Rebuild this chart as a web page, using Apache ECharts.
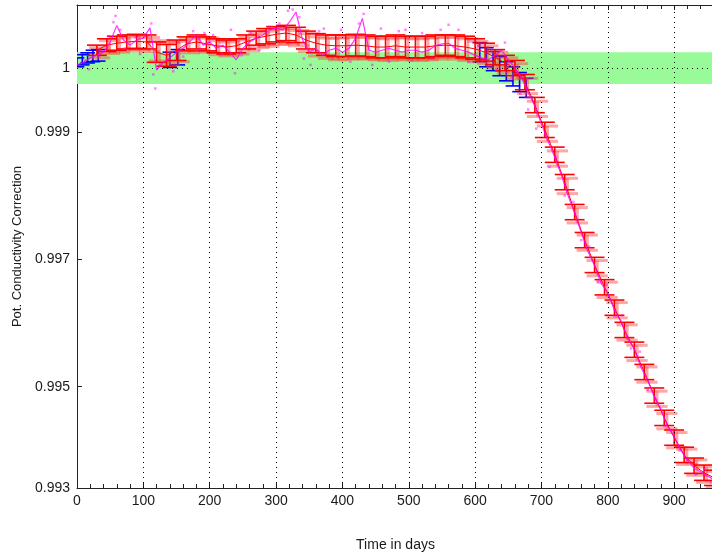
<!DOCTYPE html>
<html>
<head>
<meta charset="utf-8">
<script src="https://cdn.jsdelivr.net/npm/echarts@6/dist/echarts.min.js"></script>
<style>
  html, body { margin: 0; padding: 0; background: #fff; }
  #chart { width: 712px; height: 553px; }
</style>
</head>
<body>
<div id="chart"></div>
<script>
// Time axis ticks (days) and labelled correction levels
const xTicks = [0, 100, 200, 300, 400, 500, 600, 700, 800, 900];
const yLabelValues = [0.99341, 0.995, 0.997, 0.999, 1];
const yGridValues = [0.995, 0.997, 0.999, 1];

// Tolerance band around a correction of 1
const bandLow = 0.99975;
const bandHigh = 1.00025;

// Binned estimates with error bars (red)
const binDays = [30, 45, 60, 75, 90, 105, 120, 135, 150, 165, 180, 195, 210, 225, 240, 255, 270, 285, 300, 315,
  330, 345, 360, 375, 390, 405, 420, 435, 450, 465, 480, 495, 510, 525, 540, 555, 570, 585, 600, 615,
  630, 645, 660, 675, 690, 705, 720, 735, 750, 765, 780, 795, 810, 825, 840, 855, 870, 885, 900, 915,
  930, 945, 960];
const binMean = [1.00028, 1.00036, 1.00039, 1.00041, 1.00042, 1.00041, 1.00025, 1.00020, 1.00028, 1.00038,
  1.00041, 1.00038, 1.00035, 1.00033, 1.00035, 1.00041, 1.00047, 1.00050, 1.00053, 1.00055,
  1.00052, 1.00044, 1.00039, 1.00036, 1.00035, 1.00035, 1.00036, 1.00035, 1.00033, 1.00033,
  1.00035, 1.00033, 1.00033, 1.00033, 1.00035, 1.00036, 1.00035, 1.00033, 1.00030, 1.00025,
  1.00017, 1.00008, 1.00000, 0.99978, 0.99942, 0.99903, 0.99864, 0.99821, 0.99774, 0.99730,
  0.99691, 0.99656, 0.99624, 0.99589, 0.99558, 0.99523, 0.99486, 0.99451, 0.99420, 0.99393,
  0.99376, 0.99365, 0.99357];
const binErr = [0.00008, 0.00010, 0.00011, 0.00011, 0.00011, 0.00011, 0.00016, 0.00017, 0.00016, 0.00011,
  0.00011, 0.00011, 0.00011, 0.00011, 0.00011, 0.00011, 0.00011, 0.00012, 0.00012, 0.00012,
  0.00012, 0.00014, 0.00015, 0.00016, 0.00017, 0.00017, 0.00017, 0.00017, 0.00017, 0.00017,
  0.00017, 0.00017, 0.00017, 0.00017, 0.00017, 0.00016, 0.00017, 0.00017, 0.00016, 0.00014,
  0.00012, 0.00012, 0.00012, 0.00012, 0.00012, 0.00012, 0.00012, 0.00012, 0.00012, 0.00012,
  0.00012, 0.00012, 0.00012, 0.00012, 0.00012, 0.00012, 0.00012, 0.00012, 0.00012, 0.00012,
  0.00012, 0.00012, 0.00012];
// Second (lighter) binned estimate
const altMean = [1.00024, 1.00033, 1.00036, 1.00038, 1.00040, 1.00037, 1.00027, 1.00023, 1.00026, 1.00035,
  1.00038, 1.00036, 1.00032, 1.00030, 1.00033, 1.00038, 1.00043, 1.00046, 1.00049, 1.00050,
  1.00047, 1.00040, 1.00034, 1.00031, 1.00030, 1.00031, 1.00032, 1.00031, 1.00030, 1.00029,
  1.00031, 1.00030, 1.00029, 1.00030, 1.00031, 1.00033, 1.00031, 1.00029, 1.00026, 1.00021,
  1.00013, 1.00004, 0.99995, 0.99972, 0.99936, 0.99897, 0.99858, 0.99815, 0.99769, 0.99726,
  0.99686, 0.99652, 0.99620, 0.99585, 0.99553, 0.99519, 0.99481, 0.99446, 0.99416, 0.99390,
  0.99373, 0.99362, 0.99355];

// Short-window estimates (blue)
const blueDays = [0, 8, 16, 24, 32, 140, 152, 607, 617, 627, 637, 647, 657, 667, 677];
const blueMean = [1.00009, 1.00013, 1.00016, 1.00019, 1.00020, 1.00013, 1.00017, 1.00025, 1.00017, 1.00011,
  1.00003, 0.99995, 0.99987, 0.99978, 0.99969];
const blueErr = [0.00007, 0.00008, 0.00008, 0.00009, 0.00009, 0.00012, 0.00012, 0.00015, 0.00015, 0.00015,
  0.00015, 0.00015, 0.00015, 0.00015, 0.00015];

// Raw series (magenta)
const rawDays = [0, 10, 20, 30, 40, 50, 60, 70, 80, 90, 100, 110, 120, 130, 140, 150, 160, 170, 180, 190,
  200, 210, 220, 230, 240, 250, 260, 270, 280, 290, 300, 310, 320, 330, 340, 350, 360, 370, 380, 390,
  400, 410, 420, 430, 440, 450, 460, 470, 480, 490, 500, 510, 520, 530, 540, 550, 560, 570, 580, 590,
  600, 610, 620, 630, 640, 650, 660, 670, 680, 690, 700, 710, 720, 730, 740, 750, 760, 770, 780, 790,
  800, 810, 820, 830, 840, 850, 860, 870, 880, 890, 900, 910, 920, 930, 940, 950, 960];
const rawValue = [1.00005, 1.00009, 1.00016, 1.00020, 1.00025, 1.00041, 1.00067, 1.00044, 1.00036, 1.00044,
  1.00047, 1.00063, 0.99997, 1.00009, 1.00016, 1.00025, 1.00031, 1.00041, 1.00052, 1.00036,
  1.00041, 1.00031, 1.00036, 1.00025, 1.00013, 1.00031, 1.00041, 1.00047, 1.00052, 1.00060,
  1.00063, 1.00060, 1.00072, 1.00088, 1.00044, 1.00025, 1.00031, 1.00020, 1.00028, 1.00031,
  1.00025, 1.00031, 1.00047, 1.00078, 1.00028, 1.00025, 1.00028, 1.00031, 1.00028, 1.00025,
  1.00028, 1.00028, 1.00025, 1.00028, 1.00035, 1.00038, 1.00039, 1.00031, 1.00028, 1.00025,
  1.00020, 1.00016, 1.00013, 1.00020, 1.00028, 1.00013, 1.00000, 0.99985, 0.99962, 0.99940,
  0.99912, 0.99885, 0.99860, 0.99832, 0.99800, 0.99772, 0.99742, 0.99712, 0.99690, 0.99662,
  0.99647, 0.99620, 0.99603, 0.99575, 0.99560, 0.99530, 0.99510, 0.99484, 0.99465, 0.99438,
  0.99422, 0.99400, 0.99385, 0.99372, 0.99366, 0.99360, 0.99354];

// Individual measurements (magenta dots)
const pointDays = [12, 18, 35, 48, 55, 58, 65, 72, 88, 95, 112, 115, 118, 125, 145, 160, 175, 185, 192, 205,
  218, 232, 238, 248, 262, 275, 290, 305, 318, 325, 335, 342, 352, 365, 372, 385, 398, 412, 425, 432,
  445, 458, 470, 485, 495, 505, 520, 535, 548, 560, 575, 590, 605, 618, 632, 645, 655, 668, 680, 692,
  705, 712, 722, 735, 748, 760, 772, 785, 798, 810, 822, 835, 848, 860, 872, 885, 896, 908, 920, 932,
  945, 955];
const pointValue = [1.00012, 0.99998, 1.00028, 1.00050, 1.00072, 1.00082, 1.00060, 1.00031, 1.00048, 1.00022,
  1.00070, 0.99990, 0.99968, 1.00005, 0.99995, 1.00018, 1.00058, 1.00030, 1.00055, 1.00052,
  1.00022, 1.00060, 0.99992, 1.00020, 1.00055, 1.00028, 1.00065, 1.00070, 1.00090, 1.00092,
  1.00080, 1.00015, 1.00005, 1.00058, 1.00062, 1.00015, 1.00060, 1.00010, 1.00070, 1.00085,
  1.00005, 1.00062, 1.00010, 1.00058, 1.00060, 1.00012, 1.00055, 1.00015, 1.00060, 1.00068,
  1.00060, 1.00010, 1.00035, 1.00002, 0.99998, 1.00040, 0.99985, 0.99960, 0.99935, 0.99905,
  0.99895, 0.99845, 0.99860, 0.99800, 0.99790, 0.99730, 0.99720, 0.99665, 0.99660, 0.99610,
  0.99612, 0.99560, 0.99555, 0.99495, 0.99480, 0.99438, 0.99432, 0.99400, 0.99385, 0.99362,
  0.99370, 0.99350];

const FONT = 'Liberation Sans';
const TEXT = '#1a1a1a';

function zip3(a, b, c) { return a.map((v, i) => [v, b[i], c[i]]); }
function zip2(a, b) { return a.map((v, i) => [v, b[i]]); }

// Error bar drawn as a vertical stroke with wide horizontal caps (cap given in days)
function errorBar(capDays, color, width) {
  return function (params, api) {
    const x = api.value(0), y = api.value(1), e = api.value(2);
    const top = api.coord([x, y + e]);
    const bot = api.coord([x, y - e]);
    const tl = api.coord([x - capDays, y + e]);
    const tr = api.coord([x + capDays, y + e]);
    const bl = api.coord([x - capDays, y - e]);
    const br = api.coord([x + capDays, y - e]);
    const st = { stroke: color, lineWidth: width, fill: null };
    return {
      type: 'group',
      children: [
        { type: 'line', shape: { x1: top[0], y1: top[1], x2: bot[0], y2: bot[1] }, style: st },
        { type: 'line', shape: { x1: tl[0], y1: tl[1], x2: tr[0], y2: tr[1] }, style: st },
        { type: 'line', shape: { x1: bl[0], y1: bl[1], x2: br[0], y2: br[1] }, style: st }
      ]
    };
  };
}

const dotted = { color: '#000', width: 1, type: [1, 4] };

const chart = echarts.init(document.getElementById('chart'), null, { renderer: 'canvas' });
chart.setOption({
  animation: false,
  backgroundColor: '#fff',
  grid: { left: 77, right: -2, top: 5, bottom: 65, containLabel: false, outerBoundsMode: 'none' },
  xAxis: [{
    type: 'value', min: 0, max: 960, interval: 100,
    name: 'Time in days', nameLocation: 'middle', nameGap: 50,
    nameTextStyle: { fontFamily: FONT, fontSize: 14, color: TEXT },
    axisLine: { show: true, onZero: false, lineStyle: { color: '#222', width: 1 } },
    axisTick: { show: true, inside: true, length: 5, lineStyle: { color: '#222' } },
    minorTick: { show: true, splitNumber: 5, length: 4, lineStyle: { color: '#222' } },
    axisLabel: {
      fontFamily: FONT, fontSize: 14, color: TEXT, margin: 6,
      formatter: v => (xTicks.indexOf(v) >= 0 ? String(v) : '')
    },
    splitLine: { show: false }
  }, {
    type: 'value', min: 0, max: 960, interval: 100, position: 'top',
    axisLine: { show: true, onZero: false, lineStyle: { color: '#222', width: 1 } },
    axisTick: { show: true, inside: true, length: 5, lineStyle: { color: '#222' } },
    minorTick: { show: true, splitNumber: 5, length: 4, lineStyle: { color: '#222' } },
    axisLabel: { show: false },
    splitLine: { show: false }
  }],
  yAxis: {
    type: 'value', min: 0.99341, max: 1.00099,
    name: 'Pot. Conductivity Correction', nameLocation: 'middle', nameGap: 50, nameRotate: 90,
    nameTextStyle: { fontFamily: FONT, fontSize: 13, color: TEXT },
    axisLine: { show: true, onZero: false, lineStyle: { color: '#222', width: 1 } },
    axisTick: { show: true, inside: true, length: 5, customValues: yGridValues, lineStyle: { color: '#222' } },
    axisLabel: {
      fontFamily: FONT, fontSize: 14, color: TEXT, margin: 7,
      customValues: yLabelValues,
      formatter: v => String(parseFloat(v.toFixed(3)))
    },
    splitLine: { show: false }
  },
  series: [
    {
      // tolerance band
      type: 'line', data: [], z: 1, silent: true,
      markArea: {
        silent: true,
        itemStyle: { color: '#99fa99', opacity: 1 },
        data: [[{ yAxis: bandLow }, { yAxis: bandHigh }]]
      }
    },
    {
      // dotted grid
      type: 'line', data: [], z: 1.5, silent: true,
      markLine: {
        silent: true, symbol: 'none', label: { show: false },
        lineStyle: dotted,
        data: xTicks.filter(v => v > 0).map(v => ({ xAxis: v }))
          .concat(yGridValues.map(v => ({ yAxis: v })))
      }
    },
    {
      type: 'custom', name: 'short window', z: 3, clip: true,
      renderItem: errorBar(11, '#0000ff', 1.6),
      encode: { x: 0, y: 1 },
      data: zip3(blueDays, blueMean, blueErr)
    },
    {
      type: 'custom', name: 'alternate', z: 3.5, clip: true,
      renderItem: errorBar(16, 'rgba(255,60,60,0.45)', 3),
      encode: { x: 0, y: 1 },
      data: zip3(binDays.map(d => d + 4), altMean, binErr)
    },
    {
      type: 'custom', name: 'binned', z: 4, clip: true,
      renderItem: errorBar(15, '#ff0000', 1.6),
      encode: { x: 0, y: 1 },
      data: zip3(binDays, binMean, binErr)
    },
    {
      type: 'line', name: 'mean', z: 4.5, clip: true,
      data: zip2(binDays, binMean),
      showSymbol: false, lineStyle: { color: '#ff0000', width: 1 }
    },
    {
      type: 'line', name: 'raw', z: 5, clip: true,
      data: zip2(rawDays, rawValue),
      showSymbol: false, lineStyle: { color: 'rgba(255,0,255,0.8)', width: 1.2 }
    },
    {
      type: 'scatter', name: 'measurements', z: 6, clip: true,
      data: zip2(pointDays, pointValue),
      symbol: 'rect', symbolSize: 2.5,
      itemStyle: { color: 'rgba(255,0,255,0.6)' }
    }
  ]
});
</script>
</body>
</html>
